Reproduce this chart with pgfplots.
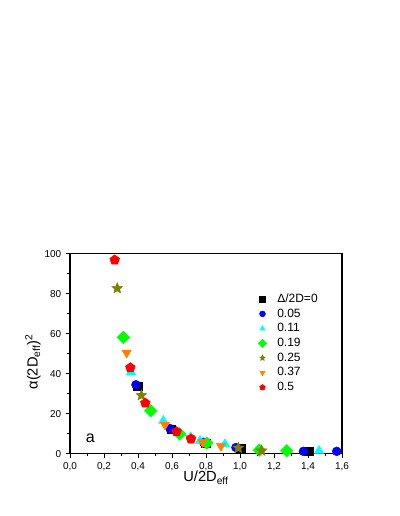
\documentclass[border=0pt]{standalone}
\usepackage{fontspec}
\setmainfont{Liberation Sans}
\usepackage{pgfplots}
\pgfplotsset{compat=1.18}
\usetikzlibrary{plotmarks}
\definecolor{cblue}{RGB}{0,0,255}
\definecolor{ccyan}{RGB}{0,255,255}
\definecolor{cgreen}{RGB}{0,255,0}
\definecolor{colive}{RGB}{128,128,0}
\definecolor{corange}{RGB}{255,128,0}
\definecolor{cred}{RGB}{255,0,0}
\pgfdeclareplotmark{fstar}{%
  \pgfpathmoveto{\pgfpointpolar{90}{\pgfplotmarksize}}%
  \pgfpathlineto{\pgfpointpolar{126}{0.45\pgfplotmarksize}}%
  \pgfpathlineto{\pgfpointpolar{162}{\pgfplotmarksize}}%
  \pgfpathlineto{\pgfpointpolar{198}{0.45\pgfplotmarksize}}%
  \pgfpathlineto{\pgfpointpolar{234}{\pgfplotmarksize}}%
  \pgfpathlineto{\pgfpointpolar{270}{0.45\pgfplotmarksize}}%
  \pgfpathlineto{\pgfpointpolar{306}{\pgfplotmarksize}}%
  \pgfpathlineto{\pgfpointpolar{342}{0.45\pgfplotmarksize}}%
  \pgfpathlineto{\pgfpointpolar{18}{\pgfplotmarksize}}%
  \pgfpathlineto{\pgfpointpolar{54}{0.45\pgfplotmarksize}}%
  \pgfpathclose
  \pgfusepathqfillstroke}
\begin{document}
\begin{tikzpicture}
\useasboundingbox (-52.5pt,-46.7pt) rectangle (246.75pt,340.3pt);
\begin{axis}[
  scale only axis,
  width=204pt, height=150pt,
  xmin=0, xmax=1.6, ymin=0, ymax=100,
  xtick={0,0.2,...,1.6},
  ytick={0,20,...,100},
  minor x tick num=1,
  minor y tick num=1,
  tick align=outside,
  xtick pos=bottom, ytick pos=left,
  major tick length=3pt, minor tick length=2pt,
  tick style={black, line width=0.5pt},
  axis line style={line width=0.8pt},
  ticklabel style={font=\fontsize{7.5}{9}\selectfont},
  /pgf/number format/assume math mode=true,
  xticklabel style={/pgf/number format/.cd, fixed, fixed zerofill, precision=1, use comma},
  yticklabel style={/pgf/number format/.cd, fixed, precision=0},
  xlabel={U/2D\textsubscript{eff}},
  ylabel={α(2D\textsubscript{eff})\textsuperscript{2}},
  label style={font=\fontsize{11}{13}\selectfont},
  xlabel style={at={(rel axis cs:0.5,-0.14)}, anchor=base},
  ylabel style={at={(rel axis cs:-0.136,0.46)}, anchor=center, rotate=0},
  legend style={draw=none, fill=none, at={(rel axis cs:0.69,0.815)}, anchor=north west,
    font=\fontsize{9}{11}\selectfont, row sep=-0.75pt, inner sep=0pt},
  legend cell align=left,
  legend image code/.code={%
    \path[draw=none] (-0.12cm,0cm) -- (0.32cm,0cm);
    \draw[#1, mark size=2.2pt] plot coordinates {(0cm,0cm)};},
  every axis plot/.append style={only marks, mark size=3.6pt},
]
\addplot[mark=square*, black, mark size=3.2pt] coordinates {
(0.398,33.8) (0.596,12.2) (0.80,5.3) (1.004,2.8) (1.404,1.2)};
\addlegendentry{Δ/2D=0}
\addplot[mark=*, cblue, mark size=3.3pt] coordinates {
(0.388,34.5) (0.588,12.6) (0.786,5.7) (0.976,3.1) (1.373,1.2) (1.569,1.2)};
\addlegendentry{0.05}
\addplot[mark=triangle*, ccyan, mark size=4pt] coordinates {
(0.359,40.8) (0.549,16.5) (0.71,8.3) (0.765,6.5) (0.912,4.8) (1.465,1.5)};
\addlegendentry{0.11}
\addplot[mark=square*, cgreen, mark options={rotate=45}, mark size=3.3pt] coordinates {
(0.314,58.2) (0.475,21.5) (0.645,9.9) (0.805,5.3) (1.114,1.8) (1.275,1.5)};
\addlegendentry{0.19}
\addplot[mark=fstar, colive, mark size=4.2pt] coordinates {
(0.278,82.7) (0.42,29.2) (0.99,2.9) (1.127,1.5)};
\addlegendentry{0.25}
\addplot[mark=triangle*, corange, mark options={rotate=180}, mark size=4pt] coordinates {
(0.333,50.5) (0.559,14.5) (0.706,7.9) (0.78,5.8) (0.888,3.9)};
\addlegendentry{0.37}
\addplot[mark=pentagon*, cred, mark size=3.8pt] coordinates {
(0.263,96.9) (0.355,43) (0.443,25.3) (0.627,11) (0.712,7.4)};
\addlegendentry{0.5}
\node[font=\fontsize{12}{14}\selectfont] at (axis cs:0.12,7.5) {a};
\end{axis}
\end{tikzpicture}
\end{document}
